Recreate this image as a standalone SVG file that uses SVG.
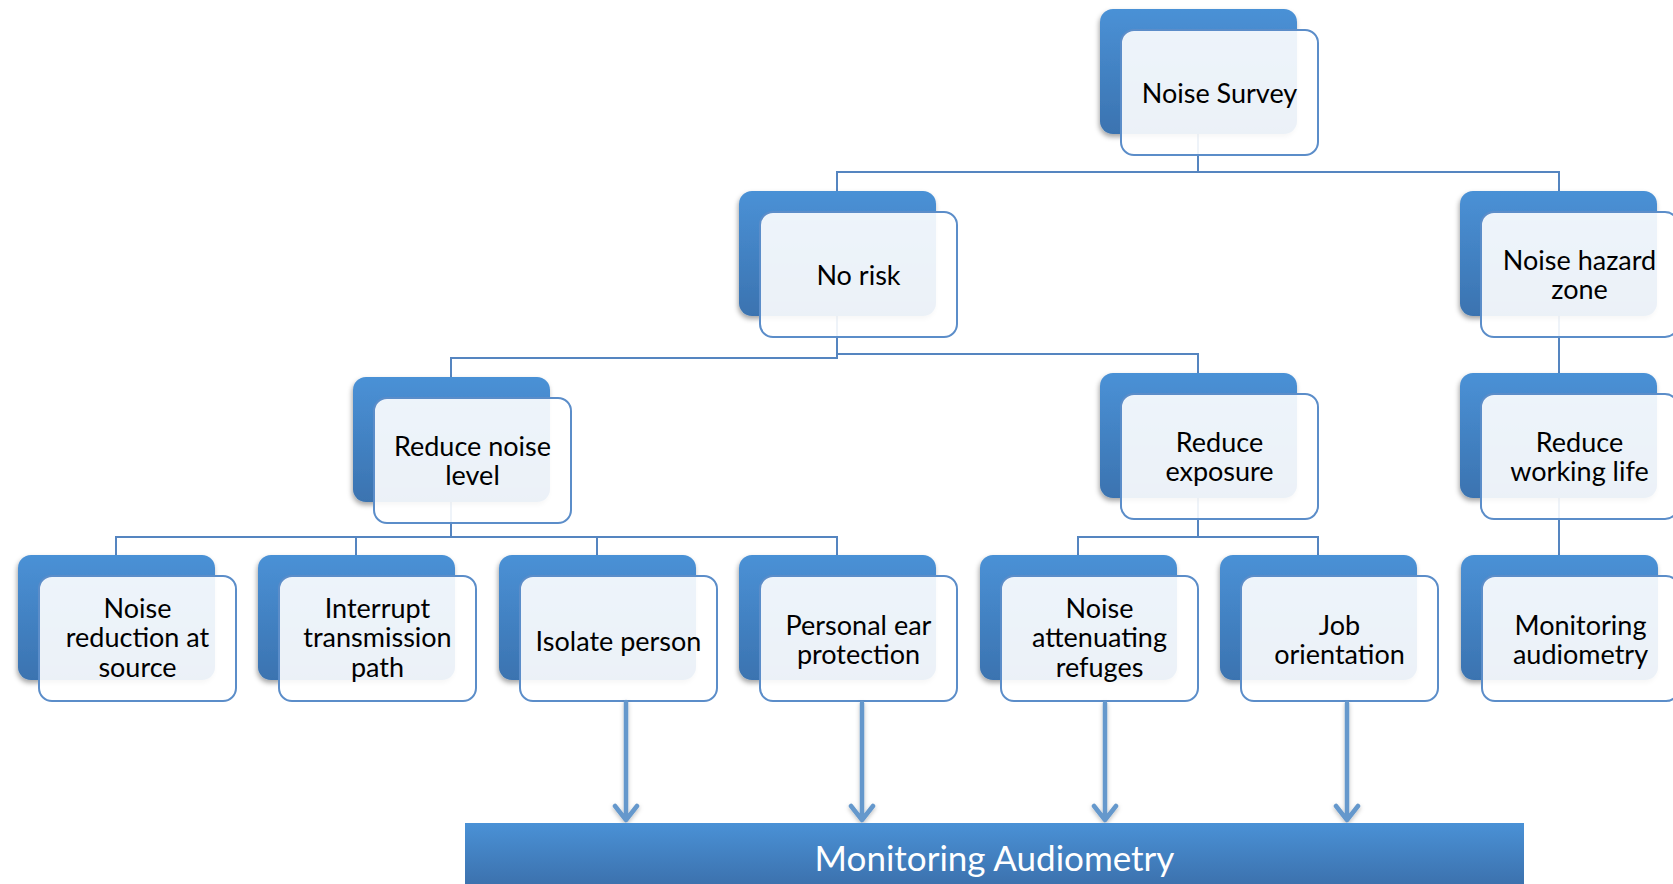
<svg xmlns="http://www.w3.org/2000/svg" width="1673" height="884" viewBox="0 0 1673 884">
<defs>
<linearGradient id="gBack" x1="0" y1="0" x2="0" y2="1">
<stop offset="0" stop-color="#4a91d6"/>
<stop offset="1" stop-color="#3b73b0"/>
</linearGradient>
<linearGradient id="gBar" x1="0" y1="0" x2="0" y2="1">
<stop offset="0" stop-color="#4a91d6"/>
<stop offset="1" stop-color="#3c72ae"/>
</linearGradient>
<filter id="shadow" x="-10%" y="-10%" width="120%" height="130%">
<feDropShadow dx="-1" dy="3" stdDeviation="2.5" flood-color="#000" flood-opacity="0.35"/>
</filter>
<filter id="ashadow" x="-50%" y="-10%" width="200%" height="120%">
<feDropShadow dx="0" dy="2" stdDeviation="2" flood-color="#000" flood-opacity="0.25"/>
</filter>
</defs>
<style>
.back{fill:url(#gBack);filter:url(#shadow)}
.front{fill:#ffffff;fill-opacity:0.9;stroke:#5b8dc9;stroke-width:2}
.lbl{font-family:Lato,"Liberation Sans",sans-serif;font-size:27px;fill:#000;text-anchor:middle}
.conn{fill:none;stroke:#5585c0;stroke-width:2}
.arr{fill:none;stroke:#6598cc;stroke-width:4.5;stroke-linecap:round;stroke-linejoin:round}
.bartxt{font-family:Lato,"Liberation Sans",sans-serif;font-size:35px;fill:#fff;text-anchor:middle}
</style>

<g id="connectors">
<path class="conn" d="M1198 133 V172 H837 V191 M1198 172 H1559 V191"/>
<path class="conn" d="M837 315 V358 H451 V377 M837 315 V354 H1198 V373"/>
<path class="conn" d="M1559 315 V373"/>
<path class="conn" d="M451 501 V537 H116 V555 M356 537 V555 M597 537 V555 M451 537 H837 V555"/>
<path class="conn" d="M1198 497 V537 H1078 V555 M1198 537 H1318 V555"/>
<path class="conn" d="M1559 497 V555"/>
</g>

<g id="n-survey" transform="translate(1100,9)">
<rect class="back" x="0" y="0" width="197" height="125" rx="13"/>
<rect class="front" x="21" y="21" width="197" height="125" rx="13"/>
<text class="lbl" x="119.5" y="94">Noise Survey</text>
</g>

<g id="n-norisk" transform="translate(739,191)">
<rect class="back" x="0" y="0" width="197" height="125" rx="13"/>
<rect class="front" x="21" y="21" width="197" height="125" rx="13"/>
<text class="lbl" x="119.5" y="94">No risk</text>
</g>

<g id="n-hazard" transform="translate(1460,191)">
<rect class="back" x="0" y="0" width="197" height="125" rx="13"/>
<rect class="front" x="21" y="21" width="197" height="125" rx="13"/>
<text class="lbl" x="119.5" y="78.5">Noise hazard</text>
<text class="lbl" x="119.5" y="107.5">zone</text>
</g>

<g id="n-reduce-noise" transform="translate(353,377)">
<rect class="back" x="0" y="0" width="197" height="125" rx="13"/>
<rect class="front" x="21" y="21" width="197" height="125" rx="13"/>
<text class="lbl" x="119.5" y="78.5">Reduce noise</text>
<text class="lbl" x="119.5" y="107.5">level</text>
</g>

<g id="n-reduce-exposure" transform="translate(1100,373)">
<rect class="back" x="0" y="0" width="197" height="125" rx="13"/>
<rect class="front" x="21" y="21" width="197" height="125" rx="13"/>
<text class="lbl" x="119.5" y="78.5">Reduce</text>
<text class="lbl" x="119.5" y="107.5">exposure</text>
</g>

<g id="n-reduce-life" transform="translate(1460,373)">
<rect class="back" x="0" y="0" width="197" height="125" rx="13"/>
<rect class="front" x="21" y="21" width="197" height="125" rx="13"/>
<text class="lbl" x="119.5" y="78.5">Reduce</text>
<text class="lbl" x="119.5" y="107.5">working life</text>
</g>

<g id="n-source" transform="translate(18,555)">
<rect class="back" x="0" y="0" width="197" height="125" rx="13"/>
<rect class="front" x="21" y="21" width="197" height="125" rx="13"/>
<text class="lbl" x="119.5" y="62.5">Noise</text>
<text class="lbl" x="119.5" y="92">reduction at</text>
<text class="lbl" x="119.5" y="122">source</text>
</g>

<g id="n-transmission" transform="translate(258,555)">
<rect class="back" x="0" y="0" width="197" height="125" rx="13"/>
<rect class="front" x="21" y="21" width="197" height="125" rx="13"/>
<text class="lbl" x="119.5" y="62.5">Interrupt</text>
<text class="lbl" x="119.5" y="92">transmission</text>
<text class="lbl" x="119.5" y="122">path</text>
</g>

<g id="n-isolate" transform="translate(499,555)">
<rect class="back" x="0" y="0" width="197" height="125" rx="13"/>
<rect class="front" x="21" y="21" width="197" height="125" rx="13"/>
<text class="lbl" x="119.5" y="95.5">Isolate person</text>
</g>

<g id="n-ear" transform="translate(739,555)">
<rect class="back" x="0" y="0" width="197" height="125" rx="13"/>
<rect class="front" x="21" y="21" width="197" height="125" rx="13"/>
<text class="lbl" x="119.5" y="79.5">Personal ear</text>
<text class="lbl" x="119.5" y="108.5">protection</text>
</g>

<g id="n-refuges" transform="translate(980,555)">
<rect class="back" x="0" y="0" width="197" height="125" rx="13"/>
<rect class="front" x="21" y="21" width="197" height="125" rx="13"/>
<text class="lbl" x="119.5" y="62.5">Noise</text>
<text class="lbl" x="119.5" y="92">attenuating</text>
<text class="lbl" x="119.5" y="122">refuges</text>
</g>

<g id="n-job" transform="translate(1220,555)">
<rect class="back" x="0" y="0" width="197" height="125" rx="13"/>
<rect class="front" x="21" y="21" width="197" height="125" rx="13"/>
<text class="lbl" x="119.5" y="79.5">Job</text>
<text class="lbl" x="119.5" y="108.5">orientation</text>
</g>

<g id="n-monitoring" transform="translate(1461,555)">
<rect class="back" x="0" y="0" width="197" height="125" rx="13"/>
<rect class="front" x="21" y="21" width="197" height="125" rx="13"/>
<text class="lbl" x="119.5" y="79.5">Monitoring</text>
<text class="lbl" x="119.5" y="108.5">audiometry</text>
</g>

<g id="arrows" filter="url(#ashadow)">
<path class="arr" d="M626 702 V820 M615 806 L626 820 L637 806"/>
<path class="arr" d="M862 703 V820 M851 806 L862 820 L873 806"/>
<path class="arr" d="M1105 703 V820 M1094 806 L1105 820 L1116 806"/>
<path class="arr" d="M1347 703 V820 M1336 806 L1347 820 L1358 806"/>
</g>

<g id="n-bar">
<rect x="465" y="823" width="1059" height="61" fill="url(#gBar)"/>
<text class="bartxt" x="994.5" y="871">Monitoring Audiometry</text>
</g>
</svg>
